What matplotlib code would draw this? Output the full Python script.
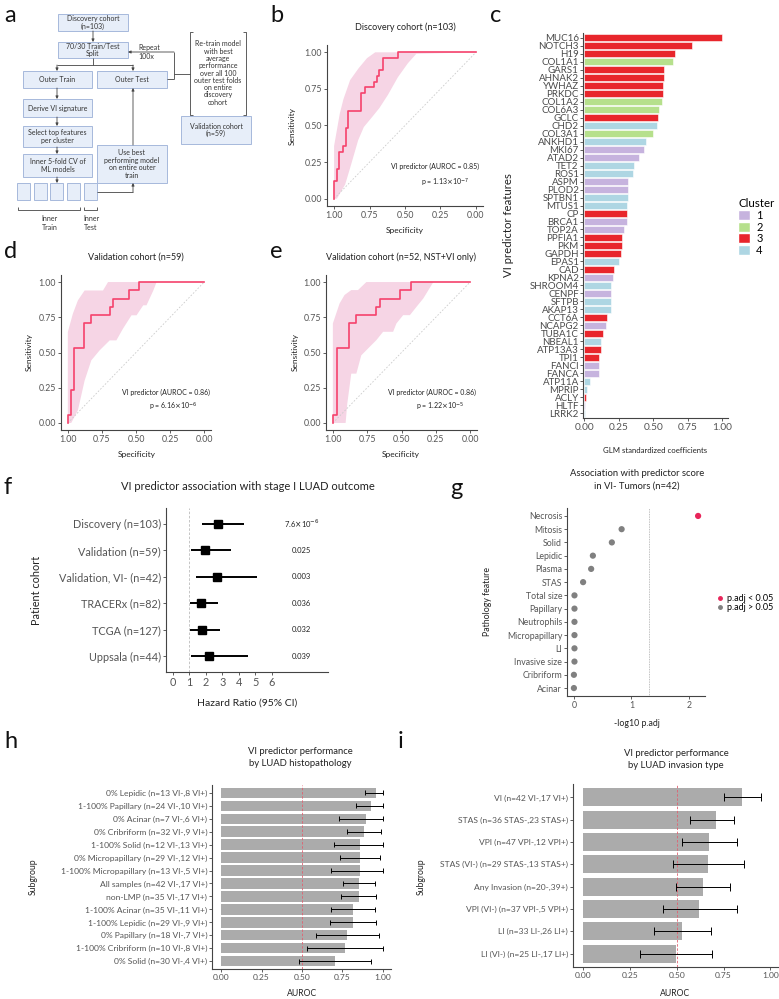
import matplotlib
matplotlib.use('Agg')
import matplotlib.pyplot as plt
from matplotlib.patches import Rectangle, Patch
from matplotlib.lines import Line2D
import numpy as np

# ---------------- data ----------------
# panel b ROC (discovery)
b_spec = [1, 1, 0.976, 0.976, 0.962, 0.962, 0.934, 0.934, 0.915, 0.915, 0.905, 0.905, 0.809, 0.809,
          0.785, 0.785, 0.721, 0.721, 0.697, 0.697, 0.681, 0.681, 0.657, 0.657, 0.548, 0.548, 0]
b_sens = [0, 0.12, 0.12, 0.20, 0.20, 0.32, 0.32, 0.36, 0.36, 0.48, 0.48, 0.60, 0.60, 0.72,
          0.72, 0.76, 0.76, 0.80, 0.80, 0.84, 0.84, 0.88, 0.88, 0.96, 0.96, 1.0, 1.0]
b_hi_spec = [1.0, 1.0, 0.96, 0.934, 0.887, 0.828, 0.768, 0.71, 0.0]
b_hi_sens = [0.0, 0.36, 0.58, 0.68, 0.81, 0.89, 0.96, 1.0, 1.0]
b_lo_spec = [1.0, 0.98, 0.922, 0.887, 0.83, 0.79, 0.73, 0.68, 0.62, 0.55, 0.48, 0.42, 0.0]
b_lo_sens = [0.0, 0.0, 0.097, 0.21, 0.40, 0.49, 0.56, 0.62, 0.71, 0.83, 0.925, 0.99, 1.0]

# panel d ROC (validation)
d_spec = [1, 1, 0.976, 0.976, 0.952, 0.952, 0.881, 0.881, 0.833, 0.833, 0.690, 0.690, 0.667, 0.667,
          0.548, 0.548, 0.476, 0.476, 0]
d_sens = [0, 0.059, 0.059, 0.235, 0.235, 0.529, 0.529, 0.706, 0.706, 0.765, 0.765, 0.824, 0.824,
          0.882, 0.882, 0.941, 0.941, 1.0, 1.0]
d_hi_spec = [1.0, 1.0, 0.963, 0.926, 0.877, 0.742, 0.705, 0.0]
d_hi_sens = [0.0, 0.645, 0.775, 0.87, 0.94, 0.94, 1.0, 1.0]
d_lo_spec = [1.0, 0.975, 0.926, 0.877, 0.828, 0.767, 0.693, 0.644, 0.595, 0.533, 0.496, 0.447,
             0.423, 0.373, 0.349, 0.0]
d_lo_sens = [0.0, 0.0, 0.09, 0.30, 0.444, 0.515, 0.586, 0.586, 0.67, 0.764, 0.764, 0.835,
             0.835, 0.94, 1.0, 1.0]

# panel e ROC (validation NST+VI)
e_spec = [1, 1, 0.971, 0.971, 0.886, 0.886, 0.829, 0.829, 0.686, 0.686, 0.657, 0.657,
          0.514, 0.514, 0.429, 0.429, 0]
e_sens = [0, 0.059, 0.059, 0.529, 0.529, 0.706, 0.706, 0.765, 0.765, 0.824, 0.824, 0.882,
          0.882, 0.941, 0.941, 1.0, 1.0]
e_hi_spec = [1.0, 1.0, 0.951, 0.915, 0.866, 0.817, 0.756, 0.0]
e_hi_sens = [0.0, 0.706, 0.848, 0.908, 0.943, 0.943, 1.0, 1.0]
e_lo_spec = [1.0, 0.907, 0.895, 0.866, 0.829, 0.793, 0.732, 0.683, 0.634, 0.561, 0.537, 0.488,
             0.439, 0.39, 0.341, 0.268, 0.0]
e_lo_sens = [0.0, 0.0, 0.137, 0.35, 0.35, 0.48, 0.54, 0.588, 0.647, 0.647, 0.706, 0.765,
             0.765, 0.825, 0.884, 1.0, 1.0]

# panel c
c_features = ['MUC16', 'NOTCH3', 'H19', 'COL1A1', 'GARS1', 'AHNAK2', 'YWHAZ', 'PRKDC', 'COL1A2',
              'COL6A3', 'GCLC', 'CHD2', 'COL3A1', 'ANKHD1', 'MKI67', 'ATAD2', 'TET2', 'ROS1', 'ASPM',
              'PLOD2', 'SPTBN1', 'MTUS1', 'CP', 'BRCA1', 'TOP2A', 'PPFIA1', 'PKM', 'GAPDH', 'EPAS1',
              'CAD', 'KPNA2', 'SHROOM4', 'CENPF', 'SFTPB', 'AKAP13', 'CCT6A', 'NCAPG2', 'TUBA1C',
              'NBEAL1', 'ATP13A3', 'TPI1', 'FANCI', 'FANCA', 'ATP11A', 'MPRIP', 'ACLY', 'HLTF', 'LRRK2']
c_coef = [1.00, 0.777, 0.654, 0.644, 0.576, 0.574, 0.567, 0.567, 0.559, 0.542, 0.533, 0.528, 0.496,
          0.446, 0.433, 0.395, 0.361, 0.349, 0.317, 0.317, 0.317, 0.310, 0.308, 0.305, 0.288, 0.274,
          0.271, 0.262, 0.254, 0.213, 0.206, 0.194, 0.194, 0.191, 0.191, 0.167, 0.155, 0.136, 0.121,
          0.119, 0.109, 0.107, 0.104, 0.044, 0.019, 0.010, 0.007, 0.005]
c_cluster = [3, 3, 3, 2, 3, 3, 3, 3, 2, 2, 3, 4, 2, 4, 1, 1, 4, 4, 1, 1, 4, 4, 3, 1, 1, 3, 3, 3, 4,
             3, 1, 4, 1, 4, 4, 3, 1, 3, 4, 3, 3, 1, 1, 4, 4, 3, 1, 4]
cluster_levels = [1, 2, 3, 4]
cluster_colors = {1: '#C6B3DE', 2: '#B6E08C', 3: '#E8262C', 4: '#AED6E3'}

# panel f
f_cohorts = ['Discovery (n=103)', 'Validation (n=59)', 'Validation, VI- (n=42)', 'TRACERx (n=82)',
             'TCGA (n=127)', 'Uppsala (n=44)']
f_hr = [2.73, 1.95, 2.67, 1.70, 1.75, 2.17]
f_lo = [1.76, 1.09, 1.39, 1.03, 1.05, 1.07]
f_hi = [4.30, 3.50, 5.10, 2.73, 2.85, 4.56]
f_p = [r'7.6$\times$10$^{-6}$', '0.025', '0.003', '0.036', '0.032', '0.039']
f_xticks = [0, 1, 2, 3, 4, 5, 6]

# panel g
g_features = ['Necrosis', 'Mitosis', 'Solid', 'Lepidic', 'Plasma', 'STAS', 'Total size', 'Papillary',
              'Neutrophils', 'Micropapillary', 'LI', 'Invasive size', 'Cribriform', 'Acinar']
g_logp = [2.16, 0.83, 0.66, 0.33, 0.30, 0.16, 0.01, 0.01, 0.01, 0.01, 0.01, 0.01, 0.0, 0.0]
g_sig = [True] + [False] * 13

# panel h
h_groups = ['0% Lepidic (n=13 VI-,8 VI+)', '1-100% Papillary (n=24 VI-,10 VI+)', '0% Acinar (n=7 VI-,6 VI+)',
            '0% Cribriform (n=32 VI-,9 VI+)', '1-100% Solid (n=12 VI-,13 VI+)',
            '0% Micropapillary (n=29 VI-,12 VI+)', '1-100% Micropapillary (n=13 VI-,5 VI+)',
            'All samples (n=42 VI-,17 VI+)', 'non-LMP (n=35 VI-,17 VI+)', '1-100% Acinar (n=35 VI-,11 VI+)',
            '1-100% Lepidic (n=29 VI-,9 VI+)', '0% Papillary (n=18 VI-,7 VI+)',
            '1-100% Cribriform (n=10 VI-,8 VI+)', '0% Solid (n=30 VI-,4 VI+)']
h_auc = [0.955, 0.928, 0.898, 0.885, 0.861, 0.857, 0.857, 0.850, 0.850, 0.816, 0.813, 0.779, 0.768, 0.703]
h_lo = [0.887, 0.836, 0.730, 0.781, 0.697, 0.734, 0.678, 0.754, 0.744, 0.682, 0.676, 0.588, 0.531, 0.482]
h_hi = [1.0, 1.0, 1.0, 0.990, 1.0, 0.980, 1.0, 0.953, 0.959, 0.953, 0.957, 0.973, 1.0, 0.928]

# panel i
i_groups = ['VI (n=42 VI-,17 VI+)', 'STAS (n=36 STAS-,23 STAS+)', 'VPI (n=47 VPI-,12 VPI+)',
            'STAS (VI-) (n=29 STAS-,13 STAS+)', 'Any Invasion (n=20-,39+)', 'VPI (VI-) (n=37 VPI-,5 VPI+)',
            'LI (n=33 LI-,26 LI+)', 'LI (VI-) (n=25 LI-,17 LI+)']
i_auc = [0.849, 0.712, 0.673, 0.667, 0.639, 0.621, 0.528, 0.495]
i_lo = [0.751, 0.573, 0.528, 0.480, 0.495, 0.425, 0.377, 0.306]
i_hi = [0.950, 0.804, 0.819, 0.861, 0.786, 0.822, 0.683, 0.689]
auc_ticks = [0.0, 0.25, 0.5, 0.75, 1.0]
roc_ticks = [1.0, 0.75, 0.5, 0.25, 0.0]

# ---------------- figure ----------------
W, H = 779, 999
plt.rcParams['font.family'] = ['Lato', 'DejaVu Sans']
plt.rcParams['mathtext.fontset'] = 'dejavusans'
fig = plt.figure(figsize=(W / 100, H / 100), dpi=100)

TXT = '#222222'
TICKC = '#555555'
SPC = '#444444'


def rect(x0, y0, x1, y1):
    return [x0 / W, 1 - y1 / H, (x1 - x0) / W, (y1 - y0) / H]


def ftext(x, y, s, **kw):
    kw.setdefault('color', TXT)
    fig.text(x / W, 1 - y / H, s, **kw)


def style(ax, size=6.5):
    for s in ['top', 'right']:
        ax.spines[s].set_visible(False)
    for s in ['left', 'bottom']:
        ax.spines[s].set_color(SPC)
        ax.spines[s].set_linewidth(0.8)
    ax.tick_params(colors=SPC, labelcolor=TICKC, length=2, width=0.6, labelsize=size, pad=1.5)


def letter(x, y, s):
    ftext(x, y, s, fontsize=17, ha='left', va='center', color='#111111')


# ---- panel a: flowchart ----
axa = fig.add_axes(rect(0, 0, 255, 240))
axa.set_xlim(0, 255)
axa.set_ylim(240, 0)
axa.axis('off')
BOX_FC = '#E7EEF9'
BOX_EC = '#A6B9DC'
LC = '#444444'


def box(x0, y0, x1, y1, text=''):
    axa.add_patch(Rectangle((x0, y0), x1 - x0, y1 - y0, fc=BOX_FC, ec=BOX_EC, lw=0.7))
    if text:
        axa.text((x0 + x1) / 2, (y0 + y1) / 2, text, ha='center', va='center', fontsize=5,
                 color='#333333', linespacing=1.1)


def arrow(x0, y0, x1, y1):
    axa.annotate('', xy=(x1, y1), xytext=(x0, y0),
                 arrowprops=dict(arrowstyle='-|>', color=LC, lw=0.6, mutation_scale=4,
                                 shrinkA=0, shrinkB=0))


def line(xs, ys):
    axa.plot(xs, ys, color=LC, lw=0.6, solid_capstyle='butt')


box(58, 14, 128, 31, 'Discovery cohort\n(n=103)')
box(58, 42, 128, 58, '70/30 Train/Test\nSplit')
box(23, 71, 92, 88, 'Outer Train')
box(97, 71, 167, 88, 'Outer Test')
box(23, 99, 92, 117, 'Derive VI signature')
box(23, 126, 92, 147, 'Select top features\nper cluster')
box(23, 154, 92, 177, 'Inner 5-fold CV of\nML models')
for x0 in [17, 34, 50, 67, 84]:
    box(x0, 183, x0 + 13, 200)
box(97, 145, 167, 183, 'Use best\nperforming model\non entire outer\ntrain')
box(181, 116, 251, 144, 'Validation cohort\n(n=59)')
arrow(93, 31, 93, 42)
line([93, 93], [58, 65])
line([57, 133], [65, 65])
arrow(57, 65, 57, 71)
arrow(133, 65, 133, 71)
arrow(57, 88, 57, 99)
arrow(57, 117, 57, 126)
arrow(57, 147, 57, 154)
arrow(57, 177, 57, 183)
line([97, 133], [192, 192])
arrow(133, 192, 133, 183)
arrow(133, 145, 133, 88)
line([167, 174], [79, 79])
line([174, 174], [52, 79])
arrow(174, 52, 128, 52)
axa.text(138, 52, 'Repeat\n100x', fontsize=5, va='center', ha='left', color='#333333', linespacing=1.2)
line([174, 190], [74, 74])
line([193, 190, 190, 193], [32, 32, 115, 115])
line([243, 246, 246, 243], [32, 32, 115, 115])
axa.text(218, 73, 'Re-train model\nwith best\naverage\nperformance\nover all 100\nouter test folds\non entire\ndiscovery\ncohort',
         fontsize=5, ha='center', va='center', color='#333333', linespacing=1.05)
line([18, 18, 80, 80], [207, 210, 210, 207])
line([84, 84, 97, 97], [207, 210, 210, 207])
axa.text(50, 223, 'Inner\nTrain', fontsize=5, ha='center', va='center', color='#333333')
axa.text(91, 223, 'Inner\nTest', fontsize=5, ha='center', va='center', color='#333333')
letter(4, 16, 'a')

# ---- ROC panels ----
LINE_C = '#F5426C'
BAND_C = '#F6D5E5'


def roc_panel(r, spec, sens, hs, hv, ls, lv):
    ax = fig.add_axes(r)
    ax.fill(list(hs) + list(ls[::-1]), list(hv) + list(lv[::-1]), color=BAND_C, lw=0, zorder=1)
    ax.plot([1, 0], [0, 1], color='#CCCCCC', lw=0.6, ls=(0, (2, 2)), zorder=2)
    ax.plot(spec, sens, color=LINE_C, lw=1.2, zorder=3)
    ax.set_xlim(1.05, -0.05)
    ax.set_ylim(-0.05, 1.05)
    ax.set_xticks(roc_ticks)
    ax.set_xticklabels(['%.2f' % t for t in roc_ticks])
    ax.set_yticks(roc_ticks)
    ax.set_yticklabels(['%.2f' % t for t in roc_ticks])
    style(ax, 6.3)
    return ax


roc_panel(rect(327, 45, 483, 206), b_spec, b_sens, b_hi_spec, b_hi_sens, b_lo_spec, b_lo_sens)
ftext(405, 27, 'Discovery cohort (n=103)', fontsize=6.5, ha='center', va='center')
ftext(292, 126, 'Sensitivity', fontsize=6, rotation=90, ha='center', va='center')
ftext(405, 230, 'Specificity', fontsize=6, ha='center', va='center')
ftext(435, 166, 'VI predictor (AUROC = 0.85)', fontsize=5, ha='center', va='center')
ftext(445, 183, r'p = 1.13$\times$10$^{-7}$', fontsize=5, ha='center', va='center')
letter(270, 15, 'b')

roc_panel(rect(61, 275, 211, 430), d_spec, d_sens, d_hi_spec, d_hi_sens, d_lo_spec, d_lo_sens)
ftext(136, 257, 'Validation cohort (n=59)', fontsize=6.5, ha='center', va='center')
ftext(29, 352, 'Sensitivity', fontsize=6, rotation=90, ha='center', va='center')
ftext(137, 454, 'Specificity', fontsize=6, ha='center', va='center')
ftext(166, 392, 'VI predictor (AUROC = 0.86)', fontsize=5, ha='center', va='center')
ftext(173, 407, r'p = 6.16$\times$10$^{-6}$', fontsize=5, ha='center', va='center')
letter(4, 251, 'd')

roc_panel(rect(326, 275, 477, 430), e_spec, e_sens, e_hi_spec, e_hi_sens, e_lo_spec, e_lo_sens)
ftext(401, 257, 'Validation cohort (n=52, NST+VI only)', fontsize=6.5, ha='center', va='center')
ftext(295, 352, 'Sensitivity', fontsize=6, rotation=90, ha='center', va='center')
ftext(401, 454, 'Specificity', fontsize=6, ha='center', va='center')
ftext(432, 392, 'VI predictor (AUROC = 0.86)', fontsize=5, ha='center', va='center')
ftext(440, 407, r'p = 1.22$\times$10$^{-5}$', fontsize=5, ha='center', va='center')
letter(270, 251, 'e')

# ---- panel c ----
axc = fig.add_axes(rect(583, 33, 728, 418))
ypos = np.arange(len(c_features))
axc.barh(ypos, c_coef, height=0.92, color=[cluster_colors[c] for c in c_cluster],
         edgecolor='white', linewidth=0.4)
axc.set_ylim(len(c_features) - 0.4, -0.6)
axc.set_xlim(-0.01, 1.04)
axc.set_yticks(ypos)
axc.set_yticklabels(c_features)
axc.set_xticks(auc_ticks)
axc.set_xticklabels(['%.2f' % t for t in auc_ticks])
style(axc, 7.3)
axc.tick_params(axis='y', labelsize=7.0, pad=1, labelcolor='#4a4a4a')
ftext(508, 225, 'VI predictor features', fontsize=8.2, rotation=90, ha='center', va='center')
ftext(655, 450, 'GLM standardized coefficients', fontsize=5.6, ha='center', va='center')
handles = [Patch(facecolor=cluster_colors[c], edgecolor='white') for c in cluster_levels]
leg = fig.legend(handles, [str(c) for c in cluster_levels], title='Cluster', loc='upper left',
                 bbox_to_anchor=(734 / W, 1 - 194 / H), frameon=False, handlelength=1.0, handleheight=1.0,
                 labelspacing=0.05, handletextpad=0.6, fontsize=8, title_fontsize=8.3, borderaxespad=0)
leg._legend_box.align = 'left'
letter(490, 15, 'c')

# ---- panel f ----
axf = fig.add_axes(rect(166, 508, 328, 672))
fy = np.arange(len(f_cohorts))
axf.axvline(1, color='#BBBBBB', lw=0.6, ls=(0, (3, 2)), zorder=1)
axf.hlines(fy, f_lo, f_hi, color='black', lw=1.4, zorder=2)
axf.plot(f_hr, fy, 's', color='black', ms=5.5, zorder=3)
for yy, p in zip(fy, f_p):
    axf.text(7.8, yy, p, fontsize=5.5, ha='center', va='center', color='#222222')
axf.set_xlim(-0.42, 9.4)
axf.set_ylim(len(f_cohorts) - 0.4, -0.6)
axf.set_yticks(fy)
axf.set_yticklabels(f_cohorts)
axf.set_xticks(f_xticks)
style(axf, 7.8)
ftext(248, 486, 'VI predictor association with stage I LUAD outcome', fontsize=8, ha='center', va='center')
ftext(37, 590, 'Patient cohort', fontsize=7.8, rotation=90, ha='center', va='center')
ftext(247, 703, 'Hazard Ratio (95% CI)', fontsize=7.5, ha='center', va='center')
letter(4, 488, 'f')

# ---- panel g ----
axg = fig.add_axes(rect(567, 508, 705, 696))
gy = np.arange(len(g_features))
axg.axvline(-np.log10(0.05), color='#AAAAAA', lw=0.6, ls=(0, (1, 1)), zorder=1)
gcols = ['#E8255A' if s else '#808080' for s in g_sig]
axg.scatter(g_logp, gy, s=20, c=gcols, zorder=3, linewidths=0)
axg.set_xlim(-0.12, 2.28)
axg.set_ylim(len(g_features) - 0.4, -0.6)
axg.set_yticks(gy)
axg.set_yticklabels(g_features)
axg.set_xticks([0, 1, 2])
style(axg, 6.3)
ftext(637, 474, 'Association with predictor score', fontsize=6.8, ha='center', va='center')
ftext(637, 486, 'in VI- Tumors (n=42)', fontsize=6.8, ha='center', va='center')
ftext(487, 602, 'Pathology feature', fontsize=6.3, rotation=90, ha='center', va='center')
ftext(637, 724, '-log10 p.adj', fontsize=6.3, ha='center', va='center')
ghandles = [Line2D([], [], marker='o', ls='', color='#E8255A', ms=2.5),
            Line2D([], [], marker='o', ls='', color='#808080', ms=2.5)]
fig.legend(ghandles, ['p.adj < 0.05', 'p.adj > 0.05'], loc='center left',
           bbox_to_anchor=(713 / W, 1 - 603 / H), frameon=False, fontsize=6.5, handlelength=0.8,
           handletextpad=0.4, labelspacing=0.05, borderaxespad=0)
letter(450, 489, 'g')


# ---- panels h, i ----
def auroc_panel(r, groups, auc, lo, hi, xl):
    ax = fig.add_axes(r)
    yy = np.arange(len(groups))
    ax.barh(yy, auc, height=0.8, color='#ABABAB', zorder=1)
    ax.axvline(0.5, color='#E06070', lw=0.6, ls=(0, (3, 2)), zorder=2)
    ax.hlines(yy, lo, hi, color='black', lw=0.7, zorder=3)
    ax.errorbar(lo, yy, yerr=0.18, fmt='none', ecolor='black', elinewidth=0.7, zorder=3)
    ax.errorbar(hi, yy, yerr=0.18, fmt='none', ecolor='black', elinewidth=0.7, zorder=3)
    ax.set_xlim(*xl)
    ax.set_ylim(len(groups) - 0.4, -0.6)
    ax.set_yticks(yy)
    ax.set_yticklabels(groups)
    ax.set_xticks(auc_ticks)
    ax.set_xticklabels(['%.2f' % t for t in auc_ticks])
    style(ax, 6.1)
    return ax


auroc_panel(rect(212, 785, 391, 969), h_groups, h_auc, h_lo, h_hi, (-0.056, 1.05))
ftext(300, 752, 'VI predictor performance', fontsize=6.8, ha='center', va='center')
ftext(300, 764, 'by LUAD histopathology', fontsize=6.8, ha='center', va='center')
ftext(33, 877, 'Subgroup', fontsize=6.2, rotation=90, ha='center', va='center')
ftext(302, 994, 'AUROC', fontsize=6.2, ha='center', va='center')
letter(4, 742, 'h')

auroc_panel(rect(573, 784, 778, 967), i_groups, i_auc, i_lo, i_hi, (-0.053, 1.04))
ftext(676, 753, 'VI predictor performance', fontsize=6.8, ha='center', va='center')
ftext(676, 765, 'by LUAD invasion type', fontsize=6.8, ha='center', va='center')
ftext(421, 877, 'Subgroup', fontsize=6.2, rotation=90, ha='center', va='center')
ftext(675, 994, 'AUROC', fontsize=6.2, ha='center', va='center')
letter(398, 742, 'i')

fig.savefig('out.png', dpi=100)
